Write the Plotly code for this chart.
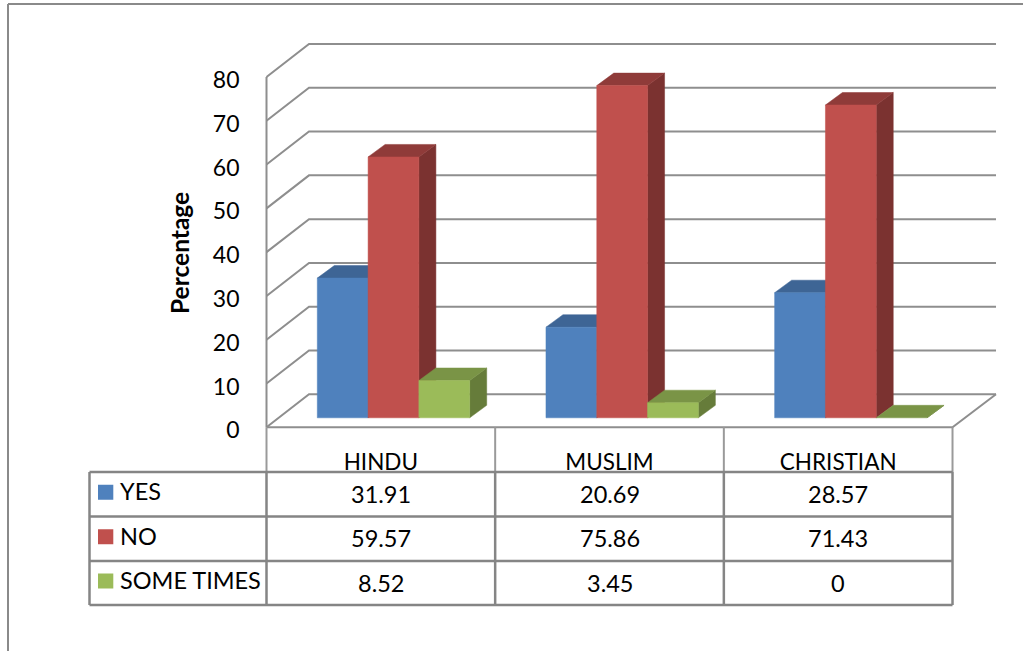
import plotly.graph_objects as go

# Survey data
categories = ["HINDU", "MUSLIM", "CHRISTIAN"]
series_names = ["YES", "NO", "SOME TIMES"]
yes_values = [31.91, 20.69, 28.57]
no_values = [59.57, 75.86, 71.43]
sometimes_values = [8.52, 3.45, 0]
y_ticks = [0, 10, 20, 30, 40, 50, 60, 70, 80]

series_values = [yes_values, no_values, sometimes_values]
front_colors = ["#4F81BD", "#C0504D", "#9BBB59"]
top_colors = ["#3E6595", "#8F3B39", "#7A9446"]
side_colors = ["#355780", "#7B3230", "#667C3A"]
GRID = "#8E8E8E"
TABLE = "#858585"
FONT = "Lato"

W, H = 1023, 651
# Pixel scale of the axes: one category and one percentage point
X0_PX, CAT_PX = 266.5, 228.67
Y0_PX, UNIT_PX = 427.3, 4.379

# Oblique projection offsets (category units / value units)
WALL_DX, WALL_DY = 42.5 / CAT_PX, 33 / UNIT_PX
WALL_END = 1 / CAT_PX
BAR_DX, BAR_DY = 17 / CAT_PX, 12.5 / UNIT_PX
BAR_LIFT = 9.5 / UNIT_PX
BAR_W = 50.8 / CAT_PX
BAR_START = 50.8 / CAT_PX


def px(x):
    return x / W


def py(y):
    return 1 - y / H


fig = go.Figure()


def poly(xs, ys, color):
    fig.add_trace(go.Scatter(
        x=xs + xs[:1], y=ys + ys[:1], mode="lines", fill="toself", fillcolor=color,
        line=dict(color=color, width=0.5), hoverinfo="skip", showlegend=False,
    ))


def stroke(xs, ys, width=2):
    fig.add_trace(go.Scatter(
        x=xs, y=ys, mode="lines", line=dict(color=GRID, width=width),
        hoverinfo="skip", showlegend=False,
    ))


# Walls: each gridline runs along the side wall, then across the back wall
n = len(categories)
for v in y_ticks:
    stroke([0, WALL_DX, n + WALL_DX + WALL_END], [v, v + WALL_DY, v + WALL_DY])
stroke([0, 0], [y_ticks[0], y_ticks[-1]])
stroke([0, n, n + WALL_DX + WALL_END], [0, 0, WALL_DY])

# Oblique boxes, left to right so that nearer faces overlap correctly
for c in range(n):
    for s, values in enumerate(series_values):
        v = values[c]
        x1 = c + BAR_START + s * BAR_W
        x2 = x1 + BAR_W
        base = BAR_LIFT
        top = base + v
        poly([x2, x2 + BAR_DX, x2 + BAR_DX, x2],
             [base, base + BAR_DY, top + BAR_DY, top], side_colors[s])
        poly([x1, x2, x2 + BAR_DX, x1 + BAR_DX],
             [top, top, top + BAR_DY, top + BAR_DY], top_colors[s])
        if v > 0:
            poly([x1, x2, x2, x1], [base, base, top, top], front_colors[s])

shapes = []
annotations = []


def line(x1, y1, x2, y2, color=TABLE, width=2.5):
    shapes.append(dict(type="line", xref="paper", yref="paper",
                       x0=px(x1), y0=py(y1), x1=px(x2), y1=py(y2),
                       line=dict(color=color, width=width)))


def label(x, y, text, anchor="center", size=23.5):
    annotations.append(dict(xref="paper", yref="paper", x=px(x), y=py(y), text=text,
                            showarrow=False, xanchor=anchor, yanchor="middle",
                            font=dict(family=FONT, size=size, color="#000000")))


# Outer frame
line(8, 4, W, 4, "#8A8A8A", 2)
line(8, 4, 8, H, "#8A8A8A", 2)

# Data table under the plot
col_px = [X0_PX + i * CAT_PX for i in range(n + 1)]
row_px = [472, 516.5, 561, 605]
for x in col_px:
    line(x, Y0_PX, x, row_px[0], "#9A9A9A", 2)
for y in row_px:
    line(89.5, y, col_px[-1], y)
for x in [89.5] + col_px:
    line(x, row_px[0], x, row_px[-1])

for r, name in enumerate(series_names):
    mid = (row_px[r] + row_px[r + 1]) / 2
    shapes.append(dict(type="rect", xref="paper", yref="paper",
                       x0=px(98), x1=px(113.3), y0=py(mid - 7.5 - 2), y1=py(mid + 7.5 - 2),
                       fillcolor=front_colors[r], line=dict(width=0)))
    label(118, mid - 3, name, "left")
    for c in range(n):
        label((col_px[c] + col_px[c + 1]) / 2, mid - 0.5, f"{series_values[r][c]:g}")

# Value axis title
annotations.append(dict(xref="paper", yref="paper", x=px(179), y=py(253), text="<b>Percentage</b>",
                        textangle=-90, showarrow=False, xanchor="center", yanchor="middle",
                        font=dict(family=FONT, size=24.5, color="#000000")))

fig.update_layout(
    width=W, height=H, margin=dict(l=0, r=0, t=0, b=0),
    paper_bgcolor="white", plot_bgcolor="white", showlegend=False,
    shapes=shapes, annotations=annotations,
    xaxis=dict(
        range=[-X0_PX / CAT_PX, (W - X0_PX) / CAT_PX], domain=[0, 1],
        anchor="free", position=py(446.5), showgrid=False, zeroline=False, showline=False,
        tickmode="array", tickvals=[i + 0.5 for i in range(n)], ticktext=categories,
        ticks="", tickfont=dict(family=FONT, size=22.5, color="#000000"),
    ),
    yaxis=dict(
        range=[-(H - Y0_PX) / UNIT_PX, Y0_PX / UNIT_PX], domain=[0, 1],
        anchor="free", position=px(X0_PX), showgrid=False, zeroline=False, showline=False,
        tickmode="array", tickvals=y_ticks, ticks="", ticklabelstandoff=27,
        ticklabelshift=3,
        tickfont=dict(family=FONT, size=23, color="#000000"),
    ),
)

fig.write_html("out.html")
